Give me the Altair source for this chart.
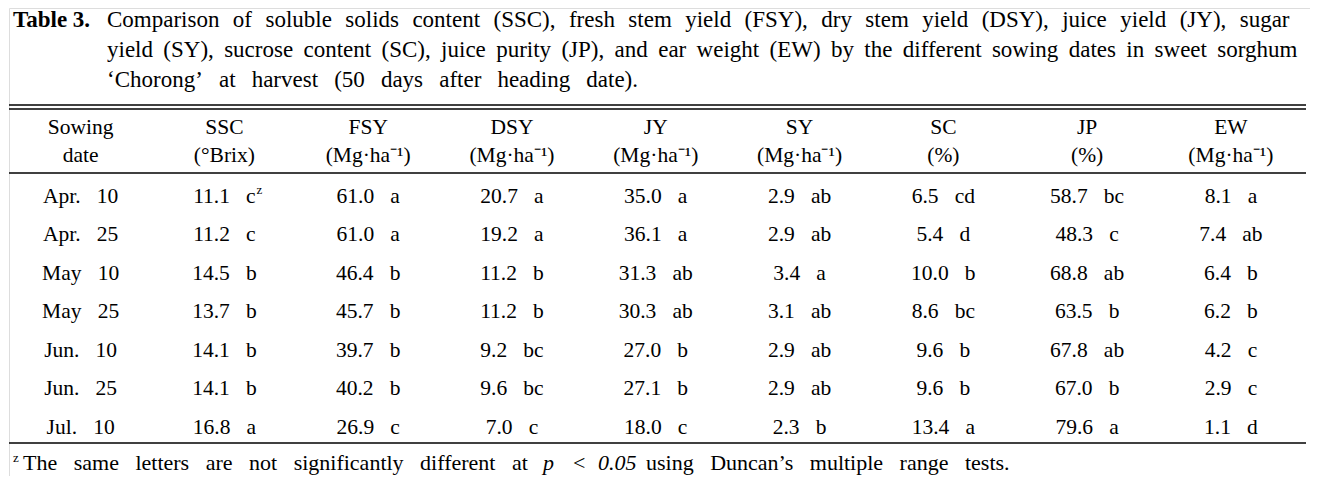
import altair as alt
import pandas as pd

# ---------------- data ----------------
TITLE_LABEL = "Table 3."
TITLE_LINES = [
    "Comparison of soluble solids content (SSC), fresh stem yield (FSY), dry stem yield (DSY), juice yield (JY), sugar",
    "yield (SY), sucrose content (SC), juice purity (JP), and ear weight (EW) by the different sowing dates in sweet sorghum",
    "\u2018Chorong\u2019 at harvest (50 days after heading date).",
]
HEADER_1 = ["Sowing", "SSC", "FSY", "DSY", "JY", "SY", "SC", "JP", "EW"]
HEADER_2 = ["date", "(\u00b0Brix)", "(Mg\u00b7ha\u207b\u00b9)", "(Mg\u00b7ha\u207b\u00b9)", "(Mg\u00b7ha\u207b\u00b9)",
            "(Mg\u00b7ha\u207b\u00b9)", "(%)", "(%)", "(Mg\u00b7ha\u207b\u00b9)"]
DATES = ["Apr. 10", "Apr. 25", "May 10", "May 25", "Jun. 10", "Jun. 25", "Jul. 10"]
SSC = ["11.1", "11.2", "14.5", "13.7", "14.1", "14.1", "16.8"]
SSC_L = ["c", "c", "b", "b", "b", "b", "a"]
FSY = ["61.0", "61.0", "46.4", "45.7", "39.7", "40.2", "26.9"]
FSY_L = ["a", "a", "b", "b", "b", "b", "c"]
DSY = ["20.7", "19.2", "11.2", "11.2", "9.2", "9.6", "7.0"]
DSY_L = ["a", "a", "b", "b", "bc", "bc", "c"]
JY = ["35.0", "36.1", "31.3", "30.3", "27.0", "27.1", "18.0"]
JY_L = ["a", "a", "ab", "ab", "b", "b", "c"]
SY = ["2.9", "2.9", "3.4", "3.1", "2.9", "2.9", "2.3"]
SY_L = ["ab", "ab", "a", "ab", "ab", "ab", "b"]
SC = ["6.5", "5.4", "10.0", "8.6", "9.6", "9.6", "13.4"]
SC_L = ["cd", "d", "b", "bc", "b", "b", "a"]
JP = ["58.7", "48.3", "68.8", "63.5", "67.8", "67.0", "79.6"]
JP_L = ["bc", "c", "ab", "b", "ab", "b", "a"]
EW = ["8.1", "7.4", "6.4", "6.2", "4.2", "2.9", "1.1"]
EW_L = ["a", "ab", "b", "b", "c", "c", "d"]
FOOT_MARK = "z"
FOOT_PARTS = ["The same letters are not significantly different at", "p", "<", "0.05",
              "using Duncan\u2019s multiple range tests."]

# ---------------- helpers ----------------
NB = "\u00a0"
THIN = "\u2009"
HAIR = "\u200a"
GAP = NB * 3
TITLE_GAPS = [NB * 2 + HAIR, NB + THIN, NB * 2 + THIN]
FOOT_GAP = NB * 3


def spaced(s, gap):
    return gap.join(s.split(" "))


cols = [(SSC, SSC_L), (FSY, FSY_L), (DSY, DSY_L), (JY, JY_L), (SY, SY_L), (SC, SC_L), (JP, JP_L), (EW, EW_L)]
rows = []
for r, d in enumerate(DATES):
    rows.append({"col": 0, "row": r, "txt": spaced(d, GAP)})
    for c, (vals, lets) in enumerate(cols, start=1):
        rows.append({"col": c, "row": r, "txt": vals[r] + GAP + lets[r]})
body = pd.DataFrame(rows)
head = pd.DataFrame({"col": list(range(9)), "h1": HEADER_1, "h2": HEADER_2})

FONT = "Liberation Serif"
INK = "#000"
BODY_SIZE = 21.5
W, H = 1302, 468
xs = alt.Scale(domain=[-0.498, 8.55], nice=False, zero=False)
ys = alt.Scale(domain=[-5.065, 7.091], nice=False, zero=False, reverse=True)
X = alt.X("col:Q", scale=xs, axis=None)
Y = alt.Y("row:Q", scale=ys, axis=None)

body_layer = alt.Chart(body).mark_text(font=FONT, fontSize=BODY_SIZE, baseline="alphabetic",
                                       align="center", color=INK).encode(x=X, y=Y, text="txt:N")
supz = alt.Chart(body[(body.col == 1) & (body.row == 0)]).mark_text(
    font=FONT, fontSize=13, baseline="alphabetic", align="left", dx=32, dy=-9, color=INK
).encode(x=X, y=Y, text=alt.value(FOOT_MARK))

h1_layer = alt.Chart(head).mark_text(font=FONT, fontSize=BODY_SIZE, baseline="alphabetic",
                                     align="center", color=INK).encode(x=X, y=alt.value(126), text="h1:N")
h2_layer = alt.Chart(head).mark_text(font=FONT, fontSize=BODY_SIZE, baseline="alphabetic",
                                     align="center", color=INK).encode(x=X, y=alt.value(154), text="h2:N")

one = alt.Data(values=[{}])


def rule(y, w=1.6):
    return alt.Chart(one).mark_rule(color=INK, strokeWidth=w).encode(
        x=alt.value(0), x2=alt.value(1297), y=alt.value(y))


def label(text, x, y, size=22, weight="normal", style="normal", align="left"):
    return alt.Chart(one).mark_text(font=FONT, fontSize=size, fontWeight=weight, fontStyle=style,
                                    baseline="alphabetic", align=align, color=INK).encode(
        x=alt.value(x), y=alt.value(y), text=alt.value(text))


layers = [rule(97), rule(101), rule(165), rule(435)]
layers.append(label(TITLE_LABEL, 4, 19, size=23, weight="bold"))
for i, ln in enumerate(TITLE_LINES):
    layers.append(label(spaced(ln, TITLE_GAPS[i]), 98, 19 + 30 * i, size=23))
layers.append(label(FOOT_MARK, 4, 454, size=13))
layers.append(label(spaced(FOOT_PARTS[0], FOOT_GAP), 14, 462))
layers.append(label(FOOT_PARTS[1], 534, 462, style="italic"))
layers.append(label(FOOT_PARTS[2], 564, 462))
layers.append(label(FOOT_PARTS[3], 589, 462, style="italic"))
layers.append(label(spaced(FOOT_PARTS[4], FOOT_GAP), 637, 462))
layers += [h1_layer, h2_layer, body_layer, supz]

chart = alt.layer(*layers).properties(
    width=W, height=H, padding=0,
    autosize=alt.AutoSizeParams(type="fit", contains="padding"),
).configure_view(stroke=None).configure(background="white")

chart.save("out.html", embed_options={"renderer": "svg", "actions": False})
